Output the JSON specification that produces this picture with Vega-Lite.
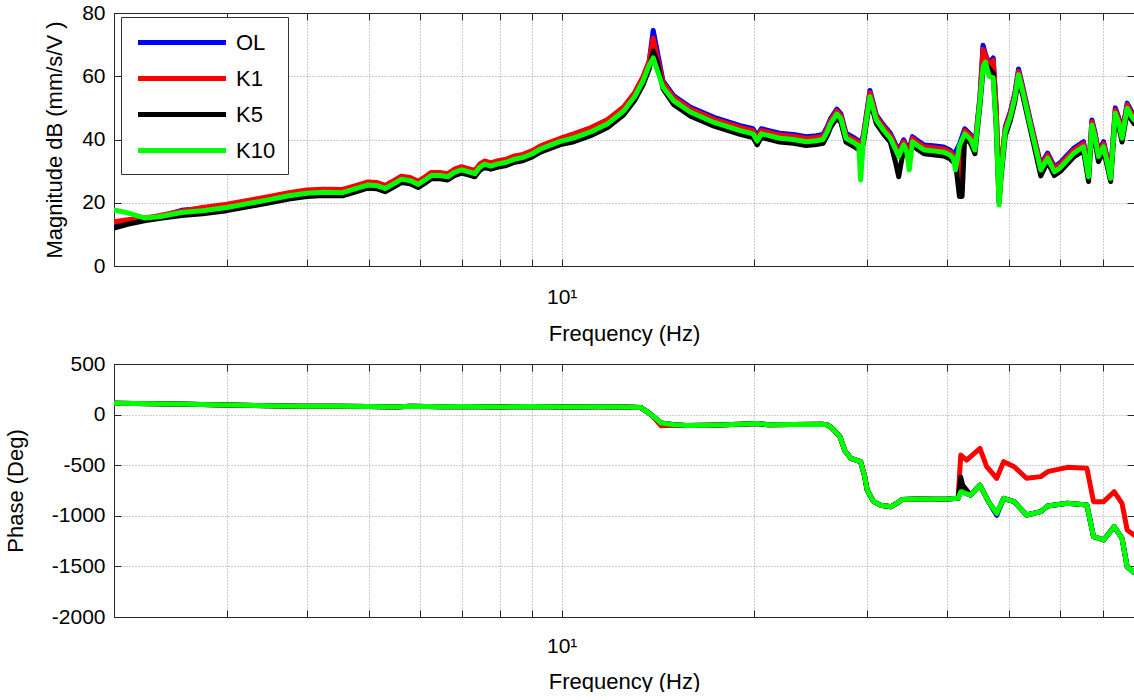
{
"$schema": "https://vega.github.io/schema/vega-lite/v6.json",
"background": "white",
"padding": {"left": 4, "top": 2, "right": 0, "bottom": 0},
"spacing": 98,
"bounds": "flush",
"config": {
  "view": {"stroke": null},
  "font": "Liberation Sans",
  "axis": {"labelFont": "Liberation Sans", "titleFont": "Liberation Sans", "labelFontSize": 21, "titleFontSize": 22, "titleFontWeight": "normal", "labelColor": "#000", "titleColor": "#000", "domainColor": "#262626", "tickColor": "#262626", "gridColor": "#9a9a9a", "gridDash": [1, 2], "gridOpacity": 1, "gridWidth": 1, "labelOverlap": false, "labelFlush": false}
},
"datasets": {
"mag": [
{"s":"OL","f":2,"v":13.0},{"s":"OL","f":2.1,"v":14.0},{"s":"OL","f":2.23,"v":14.8},{"s":"OL","f":2.35,"v":15.5},{"s":"OL","f":2.55,"v":17.6},{"s":"OL","f":2.75,"v":18.2},{"s":"OL","f":3,"v":19.2},{"s":"OL","f":3.25,"v":20.5},{"s":"OL","f":3.5,"v":21.7},{"s":"OL","f":3.75,"v":22.9},{"s":"OL","f":4,"v":23.7},{"s":"OL","f":4.25,"v":24.0},{"s":"OL","f":4.55,"v":23.9},{"s":"OL","f":4.8,"v":25.3},{"s":"OL","f":4.98,"v":26.3},{"s":"OL","f":5.15,"v":26.1},{"s":"OL","f":5.3,"v":25.2},{"s":"OL","f":5.45,"v":26.5},{"s":"OL","f":5.62,"v":28.1},{"s":"OL","f":5.8,"v":27.7},{"s":"OL","f":5.97,"v":26.5},{"s":"OL","f":6.12,"v":27.9},{"s":"OL","f":6.26,"v":29.3},{"s":"OL","f":6.45,"v":29.3},{"s":"OL","f":6.64,"v":28.9},{"s":"OL","f":6.8,"v":30.3},{"s":"OL","f":6.98,"v":31.1},{"s":"OL","f":7.15,"v":30.5},{"s":"OL","f":7.32,"v":29.9},{"s":"OL","f":7.45,"v":31.9},{"s":"OL","f":7.58,"v":32.9},{"s":"OL","f":7.75,"v":32.3},{"s":"OL","f":7.96,"v":33.0},{"s":"OL","f":8.2,"v":33.5},{"s":"OL","f":8.45,"v":34.5},{"s":"OL","f":8.7,"v":35.0},{"s":"OL","f":9,"v":36.2},{"s":"OL","f":9.27,"v":37.7},{"s":"OL","f":9.6,"v":38.9},{"s":"OL","f":9.96,"v":40.1},{"s":"OL","f":10.45,"v":41.7},{"s":"OL","f":11.1,"v":43.6},{"s":"OL","f":11.8,"v":46.2},{"s":"OL","f":12.5,"v":50.2},{"s":"OL","f":13,"v":54.7},{"s":"OL","f":13.4,"v":59.7},{"s":"OL","f":13.7,"v":64.7},{"s":"OL","f":13.9,"v":74.5},{"s":"OL","f":14.1,"v":68.0},{"s":"OL","f":14.4,"v":58.5},{"s":"OL","f":14.95,"v":53.9},{"s":"OL","f":15.9,"v":50.2},{"s":"OL","f":17.3,"v":47.0},{"s":"OL","f":19,"v":44.4},{"s":"OL","f":19.9,"v":43.4},{"s":"OL","f":20.2,"v":41.1},{"s":"OL","f":20.5,"v":43.4},{"s":"OL","f":21,"v":42.9},{"s":"OL","f":21.9,"v":42.0},{"s":"OL","f":23,"v":41.6},{"s":"OL","f":24.1,"v":40.9},{"s":"OL","f":25,"v":41.2},{"s":"OL","f":25.6,"v":41.6},{"s":"OL","f":26,"v":44.1},{"s":"OL","f":26.3,"v":46.6},{"s":"OL","f":26.9,"v":49.6},{"s":"OL","f":27.3,"v":48.1},{"s":"OL","f":27.8,"v":42.0},{"s":"OL","f":28.7,"v":40.4},{"s":"OL","f":29.1,"v":39.6},{"s":"OL","f":29.3,"v":38.5},{"s":"OL","f":29.6,"v":41.6},{"s":"OL","f":30.3,"v":55.5},{"s":"OL","f":31,"v":47.8},{"s":"OL","f":31.8,"v":44.6},{"s":"OL","f":32.6,"v":42.0},{"s":"OL","f":33.2,"v":38.6},{"s":"OL","f":33.6,"v":36.5},{"s":"OL","f":34.2,"v":39.9},{"s":"OL","f":34.6,"v":37.6},{"s":"OL","f":34.9,"v":37.0},{"s":"OL","f":35.3,"v":40.9},{"s":"OL","f":36,"v":39.6},{"s":"OL","f":36.8,"v":38.3},{"s":"OL","f":38,"v":38.0},{"s":"OL","f":39.5,"v":37.6},{"s":"OL","f":40.4,"v":36.7},{"s":"OL","f":40.9,"v":35.6},{"s":"OL","f":41.2,"v":36.0},{"s":"OL","f":41.8,"v":38.5},{"s":"OL","f":42.6,"v":43.4},{"s":"OL","f":43.5,"v":41.6},{"s":"OL","f":44.2,"v":38.3},{"s":"OL","f":45,"v":53.6},{"s":"OL","f":45.5,"v":69.8},{"s":"OL","f":45.9,"v":67.0},{"s":"OL","f":46.5,"v":64.0},{"s":"OL","f":47.2,"v":65.8},{"s":"OL","f":47.7,"v":50.0},{"s":"OL","f":48.2,"v":23.0},{"s":"OL","f":48.6,"v":32.0},{"s":"OL","f":49.3,"v":44.1},{"s":"OL","f":50.2,"v":48.8},{"s":"OL","f":51,"v":54.6},{"s":"OL","f":51.7,"v":62.3},{"s":"OL","f":52.5,"v":56.6},{"s":"OL","f":54,"v":45.6},{"s":"OL","f":56,"v":32.0},{"s":"OL","f":57.4,"v":35.7},{"s":"OL","f":58.8,"v":31.4},{"s":"OL","f":60,"v":32.6},{"s":"OL","f":63,"v":37.2},{"s":"OL","f":65.3,"v":39.3},{"s":"OL","f":66.5,"v":30.0},{"s":"OL","f":67.3,"v":46.2},{"s":"OL","f":68,"v":42.6},{"s":"OL","f":68.9,"v":36.2},{"s":"OL","f":70.2,"v":39.3},{"s":"OL","f":72,"v":29.5},{"s":"OL","f":73.2,"v":50.0},{"s":"OL","f":74.2,"v":46.6},{"s":"OL","f":75,"v":42.0},{"s":"OL","f":76.4,"v":51.5},{"s":"OL","f":77.5,"v":49.1},{"s":"OL","f":78.3,"v":47.8},
{"s":"K1","f":2,"v":14.0},{"s":"K1","f":2.1,"v":14.6},{"s":"K1","f":2.23,"v":15.2},{"s":"K1","f":2.35,"v":15.9},{"s":"K1","f":2.55,"v":17.3},{"s":"K1","f":2.75,"v":18.5},{"s":"K1","f":3,"v":19.5},{"s":"K1","f":3.25,"v":20.8},{"s":"K1","f":3.5,"v":22.0},{"s":"K1","f":3.75,"v":23.2},{"s":"K1","f":4,"v":24.0},{"s":"K1","f":4.25,"v":24.3},{"s":"K1","f":4.55,"v":24.2},{"s":"K1","f":4.8,"v":25.6},{"s":"K1","f":4.98,"v":26.6},{"s":"K1","f":5.15,"v":26.4},{"s":"K1","f":5.3,"v":25.5},{"s":"K1","f":5.45,"v":26.8},{"s":"K1","f":5.62,"v":28.4},{"s":"K1","f":5.8,"v":28.0},{"s":"K1","f":5.97,"v":26.8},{"s":"K1","f":6.12,"v":28.2},{"s":"K1","f":6.26,"v":29.6},{"s":"K1","f":6.45,"v":29.6},{"s":"K1","f":6.64,"v":29.2},{"s":"K1","f":6.8,"v":30.6},{"s":"K1","f":6.98,"v":31.4},{"s":"K1","f":7.15,"v":30.8},{"s":"K1","f":7.32,"v":30.2},{"s":"K1","f":7.45,"v":32.2},{"s":"K1","f":7.58,"v":33.2},{"s":"K1","f":7.75,"v":32.6},{"s":"K1","f":7.96,"v":33.3},{"s":"K1","f":8.2,"v":33.8},{"s":"K1","f":8.45,"v":34.8},{"s":"K1","f":8.7,"v":35.3},{"s":"K1","f":9,"v":36.5},{"s":"K1","f":9.27,"v":38.0},{"s":"K1","f":9.6,"v":39.2},{"s":"K1","f":9.96,"v":40.4},{"s":"K1","f":10.45,"v":41.8},{"s":"K1","f":11.1,"v":43.7},{"s":"K1","f":11.8,"v":46.3},{"s":"K1","f":12.5,"v":50.3},{"s":"K1","f":13,"v":54.8},{"s":"K1","f":13.4,"v":59.8},{"s":"K1","f":13.7,"v":64.8},{"s":"K1","f":13.9,"v":72.0},{"s":"K1","f":14.1,"v":66.0},{"s":"K1","f":14.4,"v":58.0},{"s":"K1","f":14.95,"v":53.3},{"s":"K1","f":15.9,"v":49.6},{"s":"K1","f":17.3,"v":46.4},{"s":"K1","f":19,"v":43.8},{"s":"K1","f":19.9,"v":42.8},{"s":"K1","f":20.2,"v":40.5},{"s":"K1","f":20.5,"v":42.8},{"s":"K1","f":21,"v":42.3},{"s":"K1","f":21.9,"v":41.4},{"s":"K1","f":23,"v":41.0},{"s":"K1","f":24.1,"v":40.3},{"s":"K1","f":25,"v":40.6},{"s":"K1","f":25.6,"v":41.0},{"s":"K1","f":26,"v":43.5},{"s":"K1","f":26.3,"v":46.0},{"s":"K1","f":26.9,"v":49.0},{"s":"K1","f":27.3,"v":47.5},{"s":"K1","f":27.8,"v":41.4},{"s":"K1","f":28.7,"v":39.8},{"s":"K1","f":29.1,"v":39.0},{"s":"K1","f":29.3,"v":37.5},{"s":"K1","f":29.6,"v":41.0},{"s":"K1","f":30.3,"v":54.8},{"s":"K1","f":31,"v":47.2},{"s":"K1","f":31.8,"v":44.0},{"s":"K1","f":32.6,"v":41.4},{"s":"K1","f":33.2,"v":38.0},{"s":"K1","f":33.6,"v":35.5},{"s":"K1","f":34.2,"v":39.3},{"s":"K1","f":34.6,"v":37.0},{"s":"K1","f":34.9,"v":36.0},{"s":"K1","f":35.3,"v":40.3},{"s":"K1","f":36,"v":39.0},{"s":"K1","f":36.8,"v":37.7},{"s":"K1","f":38,"v":37.4},{"s":"K1","f":39.5,"v":37.0},{"s":"K1","f":40.4,"v":36.1},{"s":"K1","f":40.9,"v":35.0},{"s":"K1","f":41.2,"v":34.5},{"s":"K1","f":41.8,"v":26.2},{"s":"K1","f":42.6,"v":42.8},{"s":"K1","f":43.5,"v":41.0},{"s":"K1","f":44.2,"v":37.7},{"s":"K1","f":45,"v":53.0},{"s":"K1","f":45.5,"v":68.5},{"s":"K1","f":45.9,"v":66.5},{"s":"K1","f":46.5,"v":63.5},{"s":"K1","f":47.2,"v":65.0},{"s":"K1","f":47.7,"v":50.0},{"s":"K1","f":48.2,"v":26.0},{"s":"K1","f":48.6,"v":33.0},{"s":"K1","f":49.3,"v":43.5},{"s":"K1","f":50.2,"v":48.2},{"s":"K1","f":51,"v":54.0},{"s":"K1","f":51.7,"v":61.5},{"s":"K1","f":52.5,"v":56.0},{"s":"K1","f":54,"v":45.0},{"s":"K1","f":56,"v":31.5},{"s":"K1","f":57.4,"v":35.1},{"s":"K1","f":58.8,"v":30.8},{"s":"K1","f":60,"v":32.0},{"s":"K1","f":63,"v":36.6},{"s":"K1","f":65.3,"v":38.7},{"s":"K1","f":66.5,"v":30.0},{"s":"K1","f":67.3,"v":45.6},{"s":"K1","f":68,"v":42.0},{"s":"K1","f":68.9,"v":35.6},{"s":"K1","f":70.2,"v":38.7},{"s":"K1","f":72,"v":29.0},{"s":"K1","f":73.2,"v":49.3},{"s":"K1","f":74.2,"v":46.0},{"s":"K1","f":75,"v":41.4},{"s":"K1","f":76.4,"v":50.9},{"s":"K1","f":77.5,"v":48.5},{"s":"K1","f":78.3,"v":47.2},
{"s":"K5","f":2,"v":12.0},{"s":"K5","f":2.1,"v":13.2},{"s":"K5","f":2.23,"v":14.3},{"s":"K5","f":2.35,"v":15.0},{"s":"K5","f":2.55,"v":16.0},{"s":"K5","f":2.75,"v":16.5},{"s":"K5","f":3,"v":17.5},{"s":"K5","f":3.25,"v":18.8},{"s":"K5","f":3.5,"v":20.0},{"s":"K5","f":3.75,"v":21.2},{"s":"K5","f":4,"v":22.0},{"s":"K5","f":4.25,"v":22.3},{"s":"K5","f":4.55,"v":22.2},{"s":"K5","f":4.8,"v":23.6},{"s":"K5","f":4.98,"v":24.6},{"s":"K5","f":5.15,"v":24.4},{"s":"K5","f":5.3,"v":23.5},{"s":"K5","f":5.45,"v":24.8},{"s":"K5","f":5.62,"v":26.4},{"s":"K5","f":5.8,"v":26.0},{"s":"K5","f":5.97,"v":24.8},{"s":"K5","f":6.12,"v":26.2},{"s":"K5","f":6.26,"v":27.6},{"s":"K5","f":6.45,"v":27.6},{"s":"K5","f":6.64,"v":27.2},{"s":"K5","f":6.8,"v":28.6},{"s":"K5","f":6.98,"v":29.4},{"s":"K5","f":7.15,"v":28.8},{"s":"K5","f":7.32,"v":28.2},{"s":"K5","f":7.45,"v":30.2},{"s":"K5","f":7.58,"v":31.2},{"s":"K5","f":7.75,"v":30.6},{"s":"K5","f":7.96,"v":31.3},{"s":"K5","f":8.2,"v":31.8},{"s":"K5","f":8.45,"v":32.8},{"s":"K5","f":8.7,"v":33.3},{"s":"K5","f":9,"v":34.5},{"s":"K5","f":9.27,"v":36.0},{"s":"K5","f":9.6,"v":37.2},{"s":"K5","f":9.96,"v":38.4},{"s":"K5","f":10.45,"v":39.3},{"s":"K5","f":11.1,"v":41.2},{"s":"K5","f":11.8,"v":43.8},{"s":"K5","f":12.5,"v":47.8},{"s":"K5","f":13,"v":52.3},{"s":"K5","f":13.4,"v":57.3},{"s":"K5","f":13.7,"v":62.3},{"s":"K5","f":13.9,"v":68.0},{"s":"K5","f":14.1,"v":64.5},{"s":"K5","f":14.4,"v":56.0},{"s":"K5","f":14.95,"v":51.1},{"s":"K5","f":15.9,"v":47.4},{"s":"K5","f":17.3,"v":44.2},{"s":"K5","f":19,"v":41.6},{"s":"K5","f":19.9,"v":40.6},{"s":"K5","f":20.2,"v":38.3},{"s":"K5","f":20.5,"v":40.6},{"s":"K5","f":21,"v":40.1},{"s":"K5","f":21.9,"v":39.2},{"s":"K5","f":23,"v":38.8},{"s":"K5","f":24.1,"v":38.1},{"s":"K5","f":25,"v":38.4},{"s":"K5","f":25.6,"v":38.8},{"s":"K5","f":26,"v":41.3},{"s":"K5","f":26.3,"v":43.8},{"s":"K5","f":26.9,"v":46.8},{"s":"K5","f":27.3,"v":45.3},{"s":"K5","f":27.8,"v":39.2},{"s":"K5","f":28.7,"v":37.6},{"s":"K5","f":29.1,"v":36.8},{"s":"K5","f":29.3,"v":36.5},{"s":"K5","f":29.6,"v":38.8},{"s":"K5","f":30.3,"v":52.5},{"s":"K5","f":31,"v":45.0},{"s":"K5","f":31.8,"v":41.8},{"s":"K5","f":32.6,"v":39.2},{"s":"K5","f":33.2,"v":33.0},{"s":"K5","f":33.6,"v":28.2},{"s":"K5","f":34.2,"v":37.0},{"s":"K5","f":34.6,"v":34.8},{"s":"K5","f":34.9,"v":34.0},{"s":"K5","f":35.3,"v":38.1},{"s":"K5","f":36,"v":36.8},{"s":"K5","f":36.8,"v":35.5},{"s":"K5","f":38,"v":35.2},{"s":"K5","f":39.5,"v":34.8},{"s":"K5","f":40.4,"v":33.9},{"s":"K5","f":40.9,"v":32.8},{"s":"K5","f":41.2,"v":33.0},{"s":"K5","f":41.8,"v":22.0},{"s":"K5","f":42.2,"v":22.0},{"s":"K5","f":42.6,"v":40.8},{"s":"K5","f":43.5,"v":38.8},{"s":"K5","f":44.2,"v":35.5},{"s":"K5","f":45,"v":50.8},{"s":"K5","f":45.5,"v":62.0},{"s":"K5","f":45.9,"v":64.0},{"s":"K5","f":46.5,"v":62.5},{"s":"K5","f":47.2,"v":61.0},{"s":"K5","f":47.7,"v":44.0},{"s":"K5","f":48.2,"v":20.0},{"s":"K5","f":48.6,"v":29.0},{"s":"K5","f":49.3,"v":41.3},{"s":"K5","f":50.2,"v":46.0},{"s":"K5","f":51,"v":51.8},{"s":"K5","f":51.7,"v":59.3},{"s":"K5","f":52.5,"v":53.8},{"s":"K5","f":54,"v":42.8},{"s":"K5","f":56,"v":28.5},{"s":"K5","f":57.4,"v":32.9},{"s":"K5","f":58.8,"v":28.6},{"s":"K5","f":60,"v":29.8},{"s":"K5","f":63,"v":34.4},{"s":"K5","f":65.3,"v":36.5},{"s":"K5","f":66.5,"v":26.7},{"s":"K5","f":67.3,"v":43.4},{"s":"K5","f":68,"v":39.8},{"s":"K5","f":68.9,"v":33.0},{"s":"K5","f":70.2,"v":36.5},{"s":"K5","f":72,"v":26.7},{"s":"K5","f":73.2,"v":47.1},{"s":"K5","f":74.2,"v":43.8},{"s":"K5","f":75,"v":39.2},{"s":"K5","f":76.4,"v":48.7},{"s":"K5","f":77.5,"v":46.3},{"s":"K5","f":78.3,"v":45.0},
{"s":"K10","f":2,"v":17.7},{"s":"K10","f":2.1,"v":16.8},{"s":"K10","f":2.23,"v":15.2},{"s":"K10","f":2.35,"v":15.6},{"s":"K10","f":2.55,"v":16.9},{"s":"K10","f":2.75,"v":17.5},{"s":"K10","f":3,"v":18.5},{"s":"K10","f":3.25,"v":19.8},{"s":"K10","f":3.5,"v":21.0},{"s":"K10","f":3.75,"v":22.2},{"s":"K10","f":4,"v":23.0},{"s":"K10","f":4.25,"v":23.3},{"s":"K10","f":4.55,"v":23.2},{"s":"K10","f":4.8,"v":24.6},{"s":"K10","f":4.98,"v":25.6},{"s":"K10","f":5.15,"v":25.4},{"s":"K10","f":5.3,"v":24.5},{"s":"K10","f":5.45,"v":25.8},{"s":"K10","f":5.62,"v":27.4},{"s":"K10","f":5.8,"v":27.0},{"s":"K10","f":5.97,"v":25.8},{"s":"K10","f":6.12,"v":27.2},{"s":"K10","f":6.26,"v":28.6},{"s":"K10","f":6.45,"v":28.6},{"s":"K10","f":6.64,"v":28.2},{"s":"K10","f":6.8,"v":29.6},{"s":"K10","f":6.98,"v":30.4},{"s":"K10","f":7.15,"v":29.8},{"s":"K10","f":7.32,"v":29.2},{"s":"K10","f":7.45,"v":31.2},{"s":"K10","f":7.58,"v":32.2},{"s":"K10","f":7.75,"v":31.6},{"s":"K10","f":7.96,"v":32.3},{"s":"K10","f":8.2,"v":32.8},{"s":"K10","f":8.45,"v":33.8},{"s":"K10","f":8.7,"v":34.3},{"s":"K10","f":9,"v":35.5},{"s":"K10","f":9.27,"v":37.0},{"s":"K10","f":9.6,"v":38.2},{"s":"K10","f":9.96,"v":39.4},{"s":"K10","f":10.45,"v":40.5},{"s":"K10","f":11.1,"v":42.4},{"s":"K10","f":11.8,"v":45.0},{"s":"K10","f":12.5,"v":49.0},{"s":"K10","f":13,"v":53.5},{"s":"K10","f":13.4,"v":58.5},{"s":"K10","f":13.7,"v":63.5},{"s":"K10","f":13.9,"v":65.8},{"s":"K10","f":14.1,"v":62.0},{"s":"K10","f":14.4,"v":56.5},{"s":"K10","f":14.95,"v":52.3},{"s":"K10","f":15.9,"v":48.6},{"s":"K10","f":17.3,"v":45.4},{"s":"K10","f":19,"v":42.8},{"s":"K10","f":19.9,"v":41.8},{"s":"K10","f":20.2,"v":39.5},{"s":"K10","f":20.5,"v":41.8},{"s":"K10","f":21,"v":41.3},{"s":"K10","f":21.9,"v":40.4},{"s":"K10","f":23,"v":40.0},{"s":"K10","f":24.1,"v":39.3},{"s":"K10","f":25,"v":39.6},{"s":"K10","f":25.6,"v":40.0},{"s":"K10","f":26,"v":42.5},{"s":"K10","f":26.3,"v":45.0},{"s":"K10","f":26.9,"v":48.0},{"s":"K10","f":27.3,"v":46.5},{"s":"K10","f":27.8,"v":40.4},{"s":"K10","f":28.7,"v":38.8},{"s":"K10","f":29.1,"v":38.0},{"s":"K10","f":29.3,"v":27.2},{"s":"K10","f":29.6,"v":40.0},{"s":"K10","f":30.3,"v":53.5},{"s":"K10","f":31,"v":46.2},{"s":"K10","f":31.8,"v":43.0},{"s":"K10","f":32.6,"v":40.4},{"s":"K10","f":33.2,"v":37.0},{"s":"K10","f":33.6,"v":34.6},{"s":"K10","f":34.2,"v":38.3},{"s":"K10","f":34.6,"v":36.0},{"s":"K10","f":34.9,"v":30.4},{"s":"K10","f":35.3,"v":39.3},{"s":"K10","f":36,"v":38.0},{"s":"K10","f":36.8,"v":36.7},{"s":"K10","f":38,"v":36.4},{"s":"K10","f":39.5,"v":36.0},{"s":"K10","f":40.4,"v":35.1},{"s":"K10","f":40.9,"v":34.0},{"s":"K10","f":41.2,"v":30.4},{"s":"K10","f":41.8,"v":38.0},{"s":"K10","f":42.6,"v":41.8},{"s":"K10","f":43.5,"v":40.0},{"s":"K10","f":44.2,"v":36.7},{"s":"K10","f":45,"v":52.0},{"s":"K10","f":45.5,"v":63.0},{"s":"K10","f":45.9,"v":64.5},{"s":"K10","f":46.5,"v":60.0},{"s":"K10","f":47.2,"v":59.5},{"s":"K10","f":47.7,"v":45.0},{"s":"K10","f":48.2,"v":19.3},{"s":"K10","f":48.6,"v":30.0},{"s":"K10","f":49.3,"v":42.5},{"s":"K10","f":50.2,"v":47.2},{"s":"K10","f":51,"v":53.0},{"s":"K10","f":51.7,"v":60.5},{"s":"K10","f":52.5,"v":55.0},{"s":"K10","f":54,"v":44.0},{"s":"K10","f":56,"v":30.4},{"s":"K10","f":57.4,"v":34.1},{"s":"K10","f":58.8,"v":29.8},{"s":"K10","f":60,"v":31.0},{"s":"K10","f":63,"v":35.6},{"s":"K10","f":65.3,"v":37.7},{"s":"K10","f":66.5,"v":28.2},{"s":"K10","f":67.3,"v":44.6},{"s":"K10","f":68,"v":41.0},{"s":"K10","f":68.9,"v":34.6},{"s":"K10","f":70.2,"v":37.7},{"s":"K10","f":72,"v":27.7},{"s":"K10","f":73.2,"v":48.3},{"s":"K10","f":74.2,"v":45.0},{"s":"K10","f":75,"v":40.4},{"s":"K10","f":76.4,"v":49.9},{"s":"K10","f":77.5,"v":47.5},{"s":"K10","f":78.3,"v":46.2}
],
"ph": [
{"s":"OL","f":2,"v":112},{"s":"OL","f":2.5,"v":104},{"s":"OL","f":3,"v":95},{"s":"OL","f":3.5,"v":88},{"s":"OL","f":3.9,"v":82},{"s":"OL","f":4.5,"v":82},{"s":"OL","f":5,"v":80},{"s":"OL","f":5.5,"v":74},{"s":"OL","f":5.8,"v":82},{"s":"OL","f":6.5,"v":78},{"s":"OL","f":7,"v":81},{"s":"OL","f":8,"v":76},{"s":"OL","f":9,"v":80},{"s":"OL","f":10,"v":75},{"s":"OL","f":11.5,"v":78},{"s":"OL","f":12.5,"v":76},{"s":"OL","f":13.3,"v":69},{"s":"OL","f":13.8,"v":0},{"s":"OL","f":14.3,"v":-83},{"s":"OL","f":15,"v":-100},{"s":"OL","f":15.65,"v":-107},{"s":"OL","f":17,"v":-105},{"s":"OL","f":19,"v":-96},{"s":"OL","f":20.2,"v":-89},{"s":"OL","f":21,"v":-100},{"s":"OL","f":23,"v":-98},{"s":"OL","f":25.5,"v":-96},{"s":"OL","f":26,"v":-100},{"s":"OL","f":26.5,"v":-140},{"s":"OL","f":27.2,"v":-218},{"s":"OL","f":27.7,"v":-360},{"s":"OL","f":28.3,"v":-432},{"s":"OL","f":29.3,"v":-465},{"s":"OL","f":29.7,"v":-600},{"s":"OL","f":30,"v":-745},{"s":"OL","f":30.7,"v":-860},{"s":"OL","f":31.5,"v":-895},{"s":"OL","f":32.7,"v":-910},{"s":"OL","f":33.5,"v":-870},{"s":"OL","f":34,"v":-840},{"s":"OL","f":36,"v":-835},{"s":"OL","f":38.1,"v":-837},{"s":"OL","f":40,"v":-835},{"s":"OL","f":41.6,"v":-827},{"s":"OL","f":42,"v":-762},{"s":"OL","f":43.5,"v":-795},{"s":"OL","f":45,"v":-696},{"s":"OL","f":46.4,"v":-860},{"s":"OL","f":47.8,"v":-995},{"s":"OL","f":49,"v":-827},{"s":"OL","f":50.9,"v":-860},{"s":"OL","f":53.2,"v":-992},{"s":"OL","f":56,"v":-959},{"s":"OL","f":57.4,"v":-903},{"s":"OL","f":61.6,"v":-877},{"s":"OL","f":66.1,"v":-893},{"s":"OL","f":67.7,"v":-1206},{"s":"OL","f":70.2,"v":-1239},{"s":"OL","f":72.9,"v":-1107},{"s":"OL","f":75,"v":-1222},{"s":"OL","f":76.4,"v":-1503},{"s":"OL","f":78.3,"v":-1562},
{"s":"K1","f":2,"v":112},{"s":"K1","f":2.5,"v":104},{"s":"K1","f":3,"v":95},{"s":"K1","f":3.5,"v":88},{"s":"K1","f":3.9,"v":82},{"s":"K1","f":4.5,"v":82},{"s":"K1","f":5,"v":80},{"s":"K1","f":5.5,"v":74},{"s":"K1","f":5.8,"v":82},{"s":"K1","f":6.5,"v":78},{"s":"K1","f":7,"v":81},{"s":"K1","f":8,"v":76},{"s":"K1","f":9,"v":80},{"s":"K1","f":10,"v":75},{"s":"K1","f":11.5,"v":78},{"s":"K1","f":12.5,"v":76},{"s":"K1","f":13.3,"v":69},{"s":"K1","f":13.8,"v":0},{"s":"K1","f":14.3,"v":-110},{"s":"K1","f":15,"v":-105},{"s":"K1","f":15.65,"v":-107},{"s":"K1","f":17,"v":-105},{"s":"K1","f":19,"v":-96},{"s":"K1","f":20.2,"v":-89},{"s":"K1","f":21,"v":-100},{"s":"K1","f":23,"v":-98},{"s":"K1","f":25.5,"v":-96},{"s":"K1","f":26,"v":-100},{"s":"K1","f":26.5,"v":-140},{"s":"K1","f":27.2,"v":-218},{"s":"K1","f":27.7,"v":-360},{"s":"K1","f":28.3,"v":-432},{"s":"K1","f":29.3,"v":-465},{"s":"K1","f":29.7,"v":-600},{"s":"K1","f":30,"v":-745},{"s":"K1","f":30.7,"v":-860},{"s":"K1","f":31.5,"v":-895},{"s":"K1","f":32.7,"v":-910},{"s":"K1","f":33.5,"v":-870},{"s":"K1","f":34,"v":-840},{"s":"K1","f":36,"v":-835},{"s":"K1","f":38.1,"v":-837},{"s":"K1","f":40,"v":-835},{"s":"K1","f":41.6,"v":-827},{"s":"K1","f":42,"v":-400},{"s":"K1","f":42.9,"v":-449},{"s":"K1","f":45,"v":-333},{"s":"K1","f":46.1,"v":-515},{"s":"K1","f":47.8,"v":-629},{"s":"K1","f":49,"v":-465},{"s":"K1","f":50.9,"v":-515},{"s":"K1","f":53.2,"v":-629},{"s":"K1","f":56,"v":-613},{"s":"K1","f":57.4,"v":-564},{"s":"K1","f":61.6,"v":-521},{"s":"K1","f":66.1,"v":-531},{"s":"K1","f":67.7,"v":-860},{"s":"K1","f":70.2,"v":-860},{"s":"K1","f":72.9,"v":-762},{"s":"K1","f":75,"v":-877},{"s":"K1","f":76.4,"v":-1140},{"s":"K1","f":78.3,"v":-1190},
{"s":"K5","f":2,"v":112},{"s":"K5","f":2.5,"v":104},{"s":"K5","f":3,"v":95},{"s":"K5","f":3.5,"v":88},{"s":"K5","f":3.9,"v":82},{"s":"K5","f":4.5,"v":82},{"s":"K5","f":5,"v":80},{"s":"K5","f":5.5,"v":74},{"s":"K5","f":5.8,"v":82},{"s":"K5","f":6.5,"v":78},{"s":"K5","f":7,"v":81},{"s":"K5","f":8,"v":76},{"s":"K5","f":9,"v":80},{"s":"K5","f":10,"v":75},{"s":"K5","f":11.5,"v":78},{"s":"K5","f":12.5,"v":76},{"s":"K5","f":13.3,"v":69},{"s":"K5","f":13.8,"v":0},{"s":"K5","f":14.3,"v":-83},{"s":"K5","f":15,"v":-100},{"s":"K5","f":15.65,"v":-107},{"s":"K5","f":17,"v":-105},{"s":"K5","f":19,"v":-96},{"s":"K5","f":20.2,"v":-89},{"s":"K5","f":21,"v":-100},{"s":"K5","f":23,"v":-98},{"s":"K5","f":25.5,"v":-96},{"s":"K5","f":26,"v":-100},{"s":"K5","f":26.5,"v":-140},{"s":"K5","f":27.2,"v":-218},{"s":"K5","f":27.7,"v":-360},{"s":"K5","f":28.3,"v":-432},{"s":"K5","f":29.3,"v":-465},{"s":"K5","f":29.7,"v":-600},{"s":"K5","f":30,"v":-745},{"s":"K5","f":30.7,"v":-860},{"s":"K5","f":31.5,"v":-895},{"s":"K5","f":32.7,"v":-910},{"s":"K5","f":33.5,"v":-870},{"s":"K5","f":34,"v":-840},{"s":"K5","f":36,"v":-835},{"s":"K5","f":38.1,"v":-837},{"s":"K5","f":40,"v":-835},{"s":"K5","f":41.6,"v":-827},{"s":"K5","f":42,"v":-620},{"s":"K5","f":42.3,"v":-700},{"s":"K5","f":43.5,"v":-795},{"s":"K5","f":45,"v":-696},{"s":"K5","f":46.4,"v":-860},{"s":"K5","f":47.8,"v":-976},{"s":"K5","f":49,"v":-827},{"s":"K5","f":50.9,"v":-860},{"s":"K5","f":53.2,"v":-992},{"s":"K5","f":56,"v":-959},{"s":"K5","f":57.4,"v":-903},{"s":"K5","f":61.6,"v":-877},{"s":"K5","f":66.1,"v":-893},{"s":"K5","f":67.7,"v":-1206},{"s":"K5","f":70.2,"v":-1239},{"s":"K5","f":72.9,"v":-1107},{"s":"K5","f":75,"v":-1222},{"s":"K5","f":76.4,"v":-1503},{"s":"K5","f":78.3,"v":-1562},
{"s":"K10","f":2,"v":112},{"s":"K10","f":2.5,"v":104},{"s":"K10","f":3,"v":95},{"s":"K10","f":3.5,"v":88},{"s":"K10","f":3.9,"v":82},{"s":"K10","f":4.5,"v":82},{"s":"K10","f":5,"v":80},{"s":"K10","f":5.5,"v":74},{"s":"K10","f":5.8,"v":82},{"s":"K10","f":6.5,"v":78},{"s":"K10","f":7,"v":81},{"s":"K10","f":8,"v":76},{"s":"K10","f":9,"v":80},{"s":"K10","f":10,"v":75},{"s":"K10","f":11.5,"v":78},{"s":"K10","f":12.5,"v":76},{"s":"K10","f":13.3,"v":69},{"s":"K10","f":13.8,"v":0},{"s":"K10","f":14.3,"v":-83},{"s":"K10","f":15,"v":-100},{"s":"K10","f":15.65,"v":-107},{"s":"K10","f":17,"v":-105},{"s":"K10","f":19,"v":-96},{"s":"K10","f":20.2,"v":-89},{"s":"K10","f":21,"v":-100},{"s":"K10","f":23,"v":-98},{"s":"K10","f":25.5,"v":-96},{"s":"K10","f":26,"v":-100},{"s":"K10","f":26.5,"v":-140},{"s":"K10","f":27.2,"v":-218},{"s":"K10","f":27.7,"v":-360},{"s":"K10","f":28.3,"v":-432},{"s":"K10","f":29.3,"v":-465},{"s":"K10","f":29.7,"v":-600},{"s":"K10","f":30,"v":-745},{"s":"K10","f":30.7,"v":-860},{"s":"K10","f":31.5,"v":-895},{"s":"K10","f":32.7,"v":-910},{"s":"K10","f":33.5,"v":-870},{"s":"K10","f":34,"v":-840},{"s":"K10","f":36,"v":-835},{"s":"K10","f":38.1,"v":-837},{"s":"K10","f":40,"v":-835},{"s":"K10","f":41.6,"v":-827},{"s":"K10","f":42,"v":-762},{"s":"K10","f":43.5,"v":-795},{"s":"K10","f":45,"v":-696},{"s":"K10","f":46.4,"v":-860},{"s":"K10","f":47.8,"v":-976},{"s":"K10","f":49,"v":-827},{"s":"K10","f":50.9,"v":-860},{"s":"K10","f":53.2,"v":-992},{"s":"K10","f":56,"v":-959},{"s":"K10","f":57.4,"v":-903},{"s":"K10","f":61.6,"v":-877},{"s":"K10","f":66.1,"v":-893},{"s":"K10","f":67.7,"v":-1206},{"s":"K10","f":70.2,"v":-1239},{"s":"K10","f":72.9,"v":-1107},{"s":"K10","f":75,"v":-1222},{"s":"K10","f":76.4,"v":-1503},{"s":"K10","f":78.3,"v":-1562}
]
},
"vconcat": [
{
  "width": 1020, "height": 253,
  "data": {"name": "mag"},
  "resolve": {"axis": {"x": "independent", "y": "independent"}},
  "layer": [
    {
      "mark": {"type": "line", "strokeWidth": 5, "strokeJoin": "round", "strokeCap": "round", "clip": true},
      "encoding": {
        "x": {"field": "f", "type": "quantitative", "scale": {"type": "log", "domain": [2, 78.3], "nice": false},
              "axis": {"values": [2,3,4,5,6,7,8,9,10,20,30,40,50,60,70], "labelExpr": "datum.value == 10 ? '10¹' : ''", "title": "Frequency (Hz)", "grid": true, "tickSize": -7, "labelPadding": 27, "titlePadding": 16}},
        "y": {"field": "v", "type": "quantitative", "scale": {"domain": [0, 80], "nice": false},
              "axis": {"values": [0,20,40,60,80], "title": "Magnitude dB (mm/s/V )", "grid": true, "tickSize": -7, "labelPadding": 16, "titlePadding": 15}},
        "color": {"field": "s", "type": "nominal", "sort": ["OL","K1","K5","K10"],
                  "scale": {"domain": ["OL","K1","K5","K10"], "range": ["#0000ff","#ff0000","#000000","#00ff00"]},
                  "legend": {"orient": "none", "legendX": 7, "legendY": 4, "title": null, "symbolType": "M -0.773 0 L 7.227 0", "symbolSize": 484, "symbolStrokeWidth": 5, "labelFontSize": 22, "labelFont": "Liberation Sans", "labelColor": "#000", "labelOffset": 76, "padding": 12, "rowPadding": 11, "strokeColor": "#333", "fillColor": "white", "labelLimit": 300}}
      }
    },
    {
      "mark": {"type": "line", "opacity": 0},
      "encoding": {
        "x": {"field": "f", "type": "quantitative", "scale": {"type": "log"}, "axis": {"orient": "top", "labels": false, "title": null, "grid": false, "values": [2,3,4,5,6,7,8,9,10,20,30,40,50,60,70], "tickSize": -7}},
        "y": {"field": "v", "type": "quantitative", "axis": {"orient": "right", "labels": false, "title": null, "grid": false, "domain": false, "values": [0,20,40,60,80], "tickSize": -7}}
      }
    }
  ]
},
{
  "width": 1020, "height": 253,
  "data": {"name": "ph"},
  "resolve": {"axis": {"x": "independent", "y": "independent"}},
  "layer": [
    {
      "mark": {"type": "line", "strokeWidth": 5, "strokeJoin": "round", "strokeCap": "round", "clip": true},
      "encoding": {
        "x": {"field": "f", "type": "quantitative", "scale": {"type": "log", "domain": [2, 78.3], "nice": false},
              "axis": {"values": [2,3,4,5,6,7,8,9,10,20,30,40,50,60,70], "labelExpr": "datum.value == 10 ? '10¹' : ''", "title": "Frequency (Hz)", "grid": true, "tickSize": -7, "labelPadding": 25, "titlePadding": 15}},
        "y": {"field": "v", "type": "quantitative", "scale": {"domain": [-2000, 500], "nice": false},
              "axis": {"values": [-2000,-1500,-1000,-500,0,500], "labelExpr": "'' + datum.value", "title": "Phase (Deg)", "grid": true, "tickSize": -7, "labelPadding": 16, "titlePadding": 24}},
        "color": {"field": "s", "type": "nominal", "sort": ["OL","K1","K5","K10"],
                  "scale": {"domain": ["OL","K1","K5","K10"], "range": ["#0000ff","#ff0000","#000000","#00ff00"]}, "legend": null}
      }
    },
    {
      "mark": {"type": "line", "opacity": 0},
      "encoding": {
        "x": {"field": "f", "type": "quantitative", "scale": {"type": "log"}, "axis": {"orient": "top", "labels": false, "title": null, "grid": false, "values": [2,3,4,5,6,7,8,9,10,20,30,40,50,60,70], "tickSize": -7}},
        "y": {"field": "v", "type": "quantitative", "axis": {"orient": "right", "labels": false, "title": null, "grid": false, "domain": false, "values": [-2000,-1500,-1000,-500,0,500], "tickSize": -7}}
      }
    }
  ]
}
]
}
